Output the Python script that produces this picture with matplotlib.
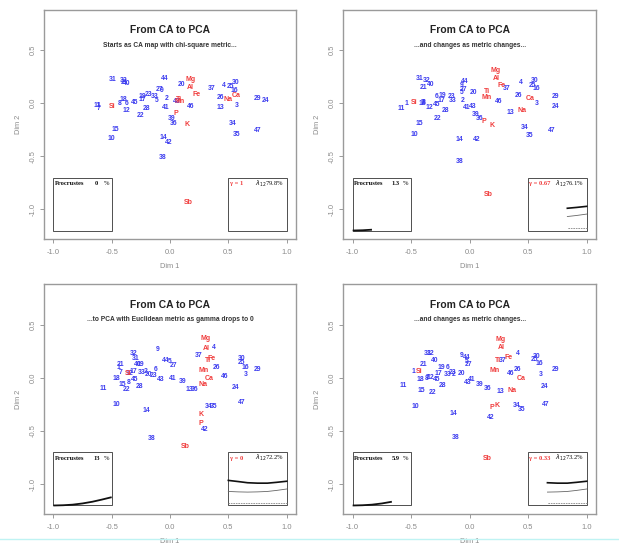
import matplotlib
matplotlib.use("Agg")
import matplotlib.pyplot as plt
from matplotlib.lines import Line2D
from matplotlib.patches import Rectangle

# ---------------- data ----------------
sample_labels = ["1", "2", "3", "4", "5", "6", "7", "8", "9", "10", "11", "12", "13", "14", "15", "16",
                 "17", "18", "19", "20", "21", "22", "23", "24", "25", "26", "27", "28", "29", "30", "31",
                 "32", "33", "34", "35", "36", "37", "38", "39", "40", "41", "42", "43", "44", "45", "46", "47"]
element_labels = ["Si", "Al", "Ti", "Fe", "Mn", "Mg", "Ca", "Na", "K", "P", "Sb"]

# panel 1 : gamma = 1
p1_sx = [-0.615, -0.025, 0.575, 0.46, -0.11, -0.37, -0.61, -0.435, -0.07, -0.50, -0.625, -0.37, 0.43, -0.06,
         -0.47, 0.555, -0.24, -0.40, -0.24, 0.10, -0.39, -0.255, -0.18, 0.82, 0.52, 0.43, -0.093, -0.20, 0.75,
         0.56, -0.49, -0.40, -0.13, 0.535, 0.567, 0.033, 0.355, -0.06, 0.016, -0.37, -0.035, -0.016, 0.055,
         -0.05, -0.30, 0.175, 0.753]
p1_sy = [-0.02, 0.045, -0.02, 0.17, 0.03, 0.0, -0.05, 0.0, 0.123, -0.33, -0.02, -0.07, -0.038, -0.32,
         -0.243, 0.12, 0.035, 0.04, 0.066, 0.18, 0.20, -0.117, 0.08, 0.025, 0.16, 0.057, 0.126, -0.047, 0.047,
         0.20, 0.227, 0.211, 0.066, -0.186, -0.296, -0.195, 0.14, -0.51, -0.145, 0.19, -0.04, -0.366, 0.013,
         0.23, 0.006, -0.03, -0.258]
p1_ex = [-0.50, 0.17, 0.075, 0.23, 0.08, 0.18, 0.565, 0.50, 0.145, 0.053, 0.156]
p1_ey = [-0.03, 0.15, 0.04, 0.085, 0.015, 0.22, 0.07, 0.04, -0.20, -0.095, -0.94]

# panel 2 : gamma = 0.67
p2_sx = [-0.54, -0.06, 0.574, 0.437, -0.071, -0.283, -0.40, -0.39, -0.069, -0.471, -0.586, -0.343, 0.351,
         -0.091, -0.429, 0.569, -0.24, -0.405, -0.234, 0.029, -0.39, -0.277, -0.157, 0.734, 0.537, 0.42,
         -0.051, -0.209, 0.731, 0.557, -0.43, -0.366, -0.146, 0.471, 0.509, 0.089, 0.317, -0.089, 0.051,
         -0.334, -0.029, 0.063, 0.029, -0.04, -0.283, 0.251, 0.70]
p2_sy = [0.0, 0.028, 0.0, 0.20, 0.098, 0.066, 0.01, 0.005, 0.17, -0.296, -0.05, -0.044, -0.088, -0.337,
         -0.192, 0.135, 0.025, 0.0, 0.072, 0.098, 0.15, -0.148, 0.063, -0.03, 0.17, 0.072, 0.126, -0.07, 0.063,
         0.211, 0.23, 0.214, 0.028, -0.23, -0.30, -0.139, 0.139, -0.545, -0.104, 0.173, -0.035, -0.344,
         -0.028, 0.205, -0.016, 0.016, -0.255]
p2_ex = [-0.471, 0.229, 0.151, 0.271, 0.146, 0.223, 0.517, 0.449, 0.189, 0.12, 0.16]
p2_ey = [0.003, 0.236, 0.107, 0.164, 0.054, 0.309, 0.047, -0.07, -0.211, -0.176, -0.857]

# panel 3 : gamma = 0
p3_sx = [-0.44, -0.21, 0.653, 0.372, -0.004, -0.12, -0.423, -0.357, -0.105, -0.463, -0.57, -0.35, 0.165,
         -0.205, -0.412, 0.644, -0.314, -0.457, -0.25, -0.185, -0.425, -0.377, -0.14, 0.564, 0.61, 0.40, 0.03,
         -0.26, 0.748, 0.61, -0.291, -0.314, -0.24, 0.33, 0.37, 0.21, 0.243, -0.156, 0.11, -0.28, 0.027,
         0.297, -0.079, -0.04, -0.303, 0.466, 0.615]
p3_sy = [0.095, 0.06, 0.035, 0.29, 0.155, 0.08, 0.047, -0.047, 0.268, -0.249, -0.104, 0.04, -0.11, -0.309,
         -0.06, 0.10, 0.06, -0.003, 0.13, 0.035, 0.123, -0.107, 0.02, -0.095, 0.148, 0.095, 0.113, -0.082,
         0.076, 0.186, 0.18, 0.227, 0.05, -0.27, -0.27, -0.11, 0.214, -0.57, -0.03, 0.13, -0.009, -0.489,
         -0.019, 0.167, -0.013, 0.009, -0.236]
p3_ex = [-0.36, 0.311, 0.329, 0.355, 0.288, 0.303, 0.334, 0.283, 0.263, 0.268, 0.134]
p3_ey = [0.04, 0.277, 0.167, 0.186, 0.066, 0.372, -0.006, -0.063, -0.347, -0.425, -0.646]

# panel 4 : gamma = 0.33
p4_sx = [-0.483, -0.14, 0.606, 0.409, -0.026, -0.19, -0.36, -0.371, -0.071, -0.46, -0.571, -0.34, 0.26,
         -0.14, -0.411, 0.597, -0.271, -0.42, -0.24, -0.074, -0.397, -0.32, -0.15, 0.643, 0.557, 0.409,
         -0.009, -0.229, 0.731, 0.574, -0.357, -0.33, -0.19, 0.40, 0.44, 0.157, 0.28, -0.123, 0.089, -0.303,
         0.014, 0.18, -0.02, -0.029, -0.286, 0.346, 0.651]
p4_sy = [0.06, 0.03, 0.028, 0.233, 0.15, 0.10, 0.0, -0.01, 0.215, -0.268, -0.07, 0.003, -0.126, -0.331,
         -0.12, 0.132, 0.038, -0.016, 0.10, 0.041, 0.13, -0.139, 0.05, -0.079, 0.17, 0.082, 0.13, -0.076,
         0.076, 0.205, 0.227, 0.227, 0.03, -0.26, -0.30, -0.10, 0.16, -0.558, -0.06, 0.167, -0.019, -0.369,
         -0.04, 0.192, -0.016, 0.041, -0.25]
p4_ex = [-0.429, 0.274, 0.246, 0.329, 0.217, 0.26, 0.437, 0.366, 0.231, 0.194, 0.154]
p4_ey = [0.057, 0.284, 0.16, 0.192, 0.069, 0.363, -0.006, -0.117, -0.256, -0.274, -0.754]

# inset curves, indexed by gamma
gamma_grid = [1.0, 0.83, 0.67, 0.5, 0.33, 0.17, 0.0]
procrustes_pct = [0.0, 0.4, 1.3, 3.2, 5.9, 9.2, 13.0]
curve_top = [0.228, 0.218, 0.21, 0.21, 0.214, 0.225, 0.236]
curve_mid = [0.155, 0.142, 0.132, 0.128, 0.126, 0.128, 0.132]
curve_low = [0.024, 0.024, 0.024, 0.024, 0.024, 0.024, 0.024]

panel_gamma = [1.0, 0.67, 0.0, 0.33]
panel_gamma_text = ["1", "0.67", "0", "0.33"]
panel_procrustes_text = ["0", "1.3", "13", "5.9"]
panel_lambda_text = ["79.8%", "76.1%", "72.2%", "73.2%"]
panel_subtitles = ["Starts as CA map with chi-square metric...",
                   "...and changes as metric changes...",
                   "...to PCA with Euclidean metric as gamma drops to 0",
                   "...and changes as metric changes..."]
panel_title = "From CA to PCA"
panels = [(p1_sx, p1_sy, p1_ex, p1_ey), (p2_sx, p2_sy, p2_ex, p2_ey),
          (p3_sx, p3_sy, p3_ex, p3_ey), (p4_sx, p4_sy, p4_ex, p4_ey)]

# ---------------- style ----------------
plt.rcParams['font.family'] = ['Liberation Sans', 'DejaVu Sans']
BLUE = '#3b3bef'
RED = '#f03c3c'
GRAY = '#8a8a8a'
FRAME = '#9a9a9a'

fig = plt.figure(figsize=(6.19, 5.48), dpi=100)
W, H = 619.0, 548.0
boxes = [(44, 10, 296, 239), (343.3, 10, 596, 239), (44, 284.3, 296, 514), (343.3, 284.3, 596, 514)]

for k, (l, t, r, b) in enumerate(boxes):
    ax = fig.add_axes([l / W, 1 - b / H, (r - l) / W, (b - t) / H])
    ax.set_xlim(-1.08, 1.08)
    ax.set_ylim(-1.28, 0.88)
    for s in ax.spines.values():
        s.set_color(FRAME)
        s.set_linewidth(1.0)
    ax.set_xticks([-1.0, -0.5, 0.0, 0.5, 1.0])
    ax.set_yticks([-1.0, -0.5, 0.0, 0.5])
    ax.set_xticklabels(["-1.0", "-0.5", "0.0", "0.5", "1.0"])
    ax.set_yticklabels(["-1.0", "-0.5", "0.0", "0.5"], rotation=90, va='center')
    ax.tick_params(axis='both', length=3.2, width=0.7, color=FRAME, labelsize=5.4, labelcolor=GRAY)
    ax.tick_params(axis='x', pad=4.0)
    ax.tick_params(axis='y', pad=2.0)
    ax.text(0.5, -0.121, "Dim 1", transform=ax.transAxes, ha='center', va='center',
            fontsize=5.3, color=GRAY)
    ax.text(-0.102, 0.5, "Dim 2", transform=ax.transAxes, ha='center', va='center',
            fontsize=5.3, color=GRAY, rotation=90)

    ax.text(0.0, 0.69, panel_title, ha='center', va='center', fontsize=7.4,
            fontweight='bold', color='#222222')
    ax.text(0.0, 0.545, panel_subtitles[k], ha='center', va='center', fontsize=4.8,
            fontweight='bold', color='#333333')

    sx, sy, ex, ey = panels[k]
    for lab, x, y in zip(sample_labels, sx, sy):
        ax.text(x, y, lab, ha='center', va='center', fontsize=4.9, fontweight='bold', color=BLUE)
    for lab, x, y in zip(element_labels, ex, ey):
        ax.text(x, y, lab, ha='center', va='center', fontsize=5.0, fontweight='bold', color=RED)

    # inset boxes
    for x0 in (-1.0, 0.5):
        ax.add_patch(Rectangle((x0, -1.2), 0.5, 0.5, fill=False, edgecolor='#333333', linewidth=0.6))
    ax.text(-0.985, -0.757, "Procrustes", ha='left', va='center', fontsize=4.7, fontweight='bold',
            family='Liberation Serif', color='#111111')
    ax.text(-0.63, -0.757, panel_procrustes_text[k], ha='center', va='center', fontsize=4.7,
            fontweight='bold', family='Liberation Serif', color='#111111')
    ax.text(-0.545, -0.757, "%", ha='center', va='center', fontsize=4.7,
            family='Liberation Serif', color='#111111')
    ax.text(0.51, -0.757, "\u03b3 = " + panel_gamma_text[k], ha='left', va='center', fontsize=4.7,
            fontweight='bold', family='Liberation Serif', color=RED)
    ax.text(0.975, -0.757, r"$\lambda_{12}$" + panel_lambda_text[k], ha='right', va='center',
            fontsize=4.7, family='Liberation Serif', color='#111111')

    g = panel_gamma[k]
    idx = [i for i, gg in enumerate(gamma_grid) if gg >= g - 1e-9]
    if len(idx) > 1:
        gx_left = [-1.0 + 0.5 * (1 - gamma_grid[i]) for i in idx]
        gy_left = [-1.2 + 0.006 * procrustes_pct[i] for i in idx]
        ax.plot(gx_left, gy_left, color='#111111', linewidth=1.3, solid_capstyle='butt')
        gx_right = [1.0 - 0.5 * (1 - gamma_grid[i]) for i in idx]
        ax.plot(gx_right, [-1.2 + curve_top[i] for i in idx], color='#111111', linewidth=1.2)
        ax.plot(gx_right, [-1.2 + curve_mid[i] for i in idx], color='#666666', linewidth=0.6)
        ax.plot(gx_right, [-1.2 + curve_low[i] for i in idx], color='#888888', linewidth=0.6,
                linestyle=(0, (2, 1)))

# light cyan line at bottom of the canvas
fig.add_artist(Line2D([0, 1], [1 - 538.5 / H, 1 - 538.5 / H], transform=fig.transFigure,
                      color='#bff3f3', linewidth=1.0))

fig.savefig("out.png", dpi=100)
